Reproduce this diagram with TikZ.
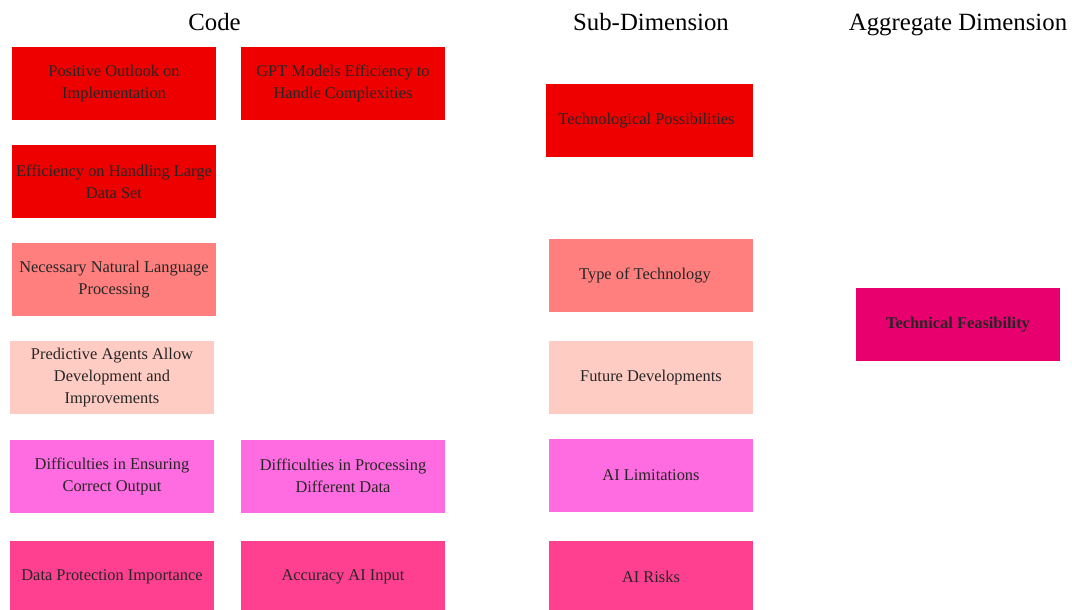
\documentclass[tikz,border=0pt]{standalone}
\usepackage{fontspec}
\setmainfont{Liberation Serif}
\definecolor{cRed}{HTML}{EE0000}
\definecolor{cSalmon}{HTML}{FF7F7F}
\definecolor{cPeach}{HTML}{FFCCC4}
\definecolor{cOrchid}{HTML}{FF6BE0}
\definecolor{cHot}{HTML}{FF4090}
\definecolor{cAgg}{HTML}{E8006E}
\tikzset{
  box/.style={draw=none, minimum width=204pt, minimum height=73pt, inner sep=1pt,
    align=center, font=\fontsize{16.4}{22}\selectfont, text=black!85},
  head/.style={anchor=base, font=\fontsize{24.8}{28}\selectfont, text=black},
}
\begin{document}
\begin{tikzpicture}[x=1pt,y=-1pt]
\useasboundingbox[fill=white] (0,0) rectangle (1072,610);
% headers
\node[head] (hCode) at (214.5,30.5) {Code};
\node[head] (hSub) at (651,30.5) {Sub-Dimension};
\node[head] (hAgg) at (958,30.5) {Aggregate Dimension};
% code column
\node[box, fill=cRed] (c1) at (114,83.5) {Positive Outlook on\\Implementation};
\node[box, fill=cRed] (c2) at (343,83.5) {GPT Models Efficiency to\\Handle Complexities};
\node[box, fill=cRed] (c3) at (114,181.5) {Efficiency on Handling Large\\Data Set};
\node[box, fill=cSalmon] (c4) at (114,279.5) {Necessary Natural Language\\Processing};
\node[box, fill=cPeach] (c5) at (112,377.5) {Predictive Agents Allow\\Development and\\Improvements};
\node[box, fill=cOrchid] (c6) at (112,476) {Difficulties in Ensuring\\Correct Output};
\node[box, fill=cOrchid] (c7) at (343,476) {Difficulties in Processing\\Different Data};
\node[box, fill=cHot] (c8) at (112,577) {Data Protection Importance};
\node[box, fill=cHot] (c9) at (343,577) {Accuracy AI Input};
% sub-dimension column
\node[box, fill=cRed, minimum width=207pt] (s1) at (649.5,120.5) {Technological Possibilities\hspace*{6pt}};
\node[box, fill=cSalmon] (s2) at (651,275.5) {Type of Technology\hspace*{12pt}};
\node[box, fill=cPeach] (s3) at (651,377.5) {Future Developments};
\node[box, fill=cOrchid] (s4) at (651,475.5) {AI Limitations};
\node[box, fill=cHot] (s5) at (651,577) {AI Risks};
% aggregate
\node[box, fill=cAgg, font=\fontsize{16.4}{22}\selectfont\bfseries] (a1) at (958,324.5) {Technical Feasibility};
\end{tikzpicture}
\end{document}
